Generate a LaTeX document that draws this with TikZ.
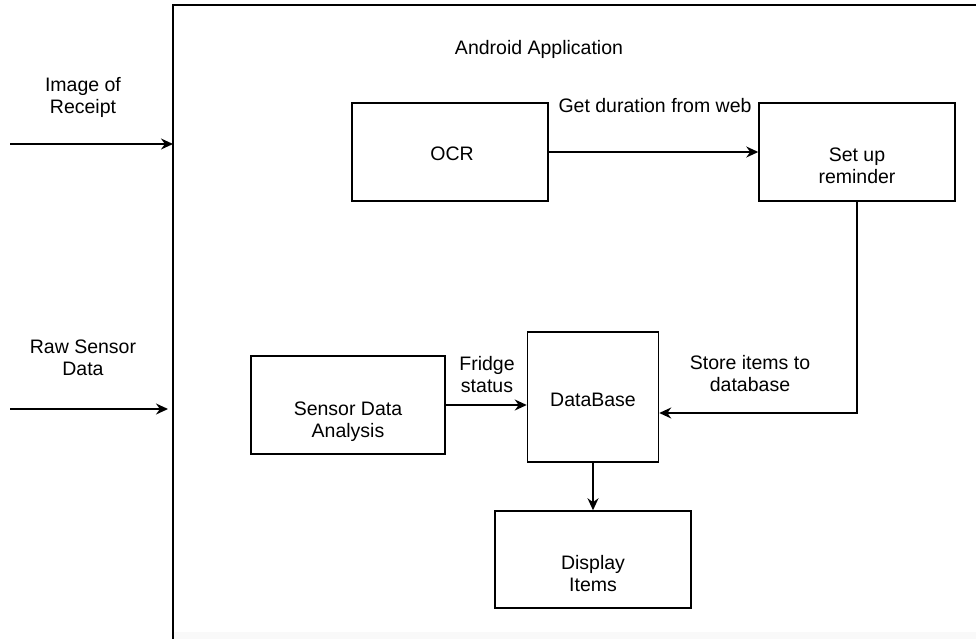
\documentclass[tikz,border=0pt]{standalone}
\usepackage{fontspec}
\setmainfont{Liberation Sans}
\usetikzlibrary{arrows.meta,calc}
\tikzset{
  box/.style={draw, line width=1.5pt, inner sep=0pt},
  txt/.style={align=center, inner sep=0pt, font=\fontsize{19.5}{22}\selectfont},
  arr/.style={line width=1.5pt, -{Stealth[length=12pt,width=11pt]}},
  frame/.style={line width=1.5pt}
}
\begin{document}
\begin{tikzpicture}[x=1pt,y=-1pt]
\useasboundingbox (0,0) rectangle (976,639);
\fill[fill={rgb,255:red,249;green,249;blue,249}] (173,632) rectangle (976,639);
\draw[frame] (173,639) -- (173,5) -- (976,5);
\coordinate (fin1) at (173,144);
\coordinate (fin2) at (168,409);
\coordinate (src1) at (10,144);
\coordinate (src2) at (10,409);

\node[txt] (title) at (539,49) {Android Application};
\node[txt] (lblimg) at (83,97.5) {Image of\\Receipt};
\node[txt] (lblraw) at (83,358) {Raw Sensor\\Data};

\node[box, minimum width=196pt, minimum height=98pt] (ocr) at (450,152) {};
\node[txt] (ocrt) at (452,154) {OCR};
\node[box, minimum width=196pt, minimum height=98pt] (rem) at (857,152) {};
\node[txt] (remt) at (857,166) {Set up\\reminder};
\node[box, minimum width=194pt, minimum height=98pt] (sda) at (348,405) {};
\node[txt] (sdat) at (348,422) {Sensor Data\\Analysis};
\node[box, minimum width=131pt, minimum height=130pt] (db) at (593,397) {};
\node[txt] (dbt) at (593,400) {DataBase};
\node[box, minimum width=196pt, minimum height=97pt] (disp) at (593,559.5) {};
\node[txt] (dispt) at (593,574) {Display\\Items};

\node[txt] (lblget) at (655,106) {Get duration from web};
\node[txt] (lblfridge) at (487,375) {Fridge\\status};
\node[txt] (lblstore) at (750,374) {Store items to\\database};

\draw[arr] (src1) -- (fin1);
\draw[arr] (src2) -- (fin2);
\draw[arr] (ocr.east) -- (ocr.east -| rem.west);
\draw[arr] (rem.south) |- ([yshift=-16pt]db.east);
\draw[arr] (sda.east) -- (sda.east -| db.west);
\draw[arr] (db.south) -- (db.south |- disp.north);
\end{tikzpicture}
\end{document}
